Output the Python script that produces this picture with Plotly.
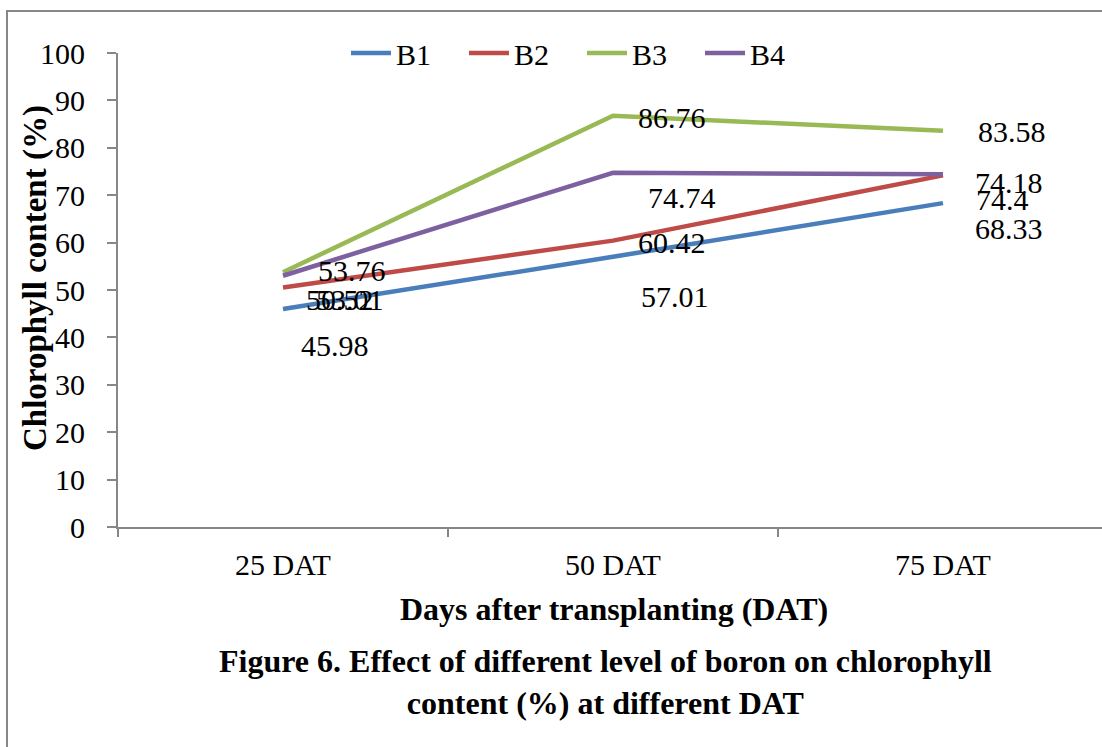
import plotly.graph_objects as go

# Chlorophyll content (%) at three sampling dates for four boron levels
categories = ["25 DAT", "50 DAT", "75 DAT"]
series_names = ["B1", "B2", "B3", "B4"]
b1 = [45.98, 57.01, 68.33]
b2 = [50.52, 60.42, 74.18]
b3 = [53.76, 86.76, 83.58]
b4 = [53.01, 74.74, 74.40]
y_ticks = [0, 10, 20, 30, 40, 50, 60, 70, 80, 90, 100]

values = [b1, b2, b3, b4]
colors = ["#4A7EBB", "#BE4B48", "#98B954", "#7D60A0"]

# pixel offsets of each value label from its point (dx right, dy down)
label_offsets = [
    [(52, 36), (62, 40), (66, 25)],
    [(57, 12), (59, 2), (66, 7)],
    [(69, -2), (59, 2), (69, 1)],
    [(67, 24), (69, 25), (59, 25)],
]

FONT = "Liberation Serif"

fig = go.Figure()
for name, vals, col in zip(series_names, values, colors):
    fig.add_trace(go.Scatter(
        x=categories, y=vals, name=name, mode="lines",
        line=dict(color=col, width=4.5, shape="linear"),
    ))

annotations = []
for vals, offs in zip(values, label_offsets):
    for cat, v, (dx, dy) in zip(categories, vals, offs):
        annotations.append(dict(
            x=cat, y=v, xref="x", yref="y", text=f"{v:g}",
            showarrow=False, xanchor="center", yanchor="middle",
            xshift=dx, yshift=-dy,
            font=dict(family=FONT, size=30, color="black"),
        ))

# y-axis title
annotations.append(dict(
    x=(35 - 118) / 984, y=(527 - 278) / 474, xref="paper", yref="paper",
    text="<b>Chlorophyll content (%)</b>", textangle=-90, showarrow=False,
    xanchor="center", yanchor="middle",
    font=dict(family=FONT, size=33, color="black"),
))
# x-axis title
annotations.append(dict(
    x=(614 - 118) / 984, y=(527 - 609) / 474, xref="paper", yref="paper",
    text="<b>Days after transplanting (DAT)</b>", showarrow=False,
    xanchor="center", yanchor="middle",
    font=dict(family=FONT, size=32, color="black"),
))
# figure caption
annotations.append(dict(
    x=(605 - 118) / 984, y=(527 - 682) / 474, xref="paper", yref="paper",
    text="<b>Figure 6. Effect of different level of boron on chlorophyll<br>content (%) at different DAT</b>",
    showarrow=False, xanchor="center", yanchor="middle", align="center",
    font=dict(family=FONT, size=32, color="black"),
))

fig.update_layout(
    width=1102, height=747,
    margin=dict(l=118, r=0, t=53, b=220, pad=0),
    paper_bgcolor="white", plot_bgcolor="white",
    font=dict(family=FONT, size=30, color="black"),
    showlegend=True,
    legend=dict(
        orientation="h", x=(582 - 118) / 984, y=1.0,
        xanchor="center", yanchor="middle",
        font=dict(family=FONT, size=30, color="black"),
        bgcolor="rgba(0,0,0,0)", entrywidth=63, itemwidth=40,
        tracegroupgap=0,
    ),
    annotations=annotations,
    shapes=[dict(
        type="rect", xref="paper", yref="paper",
        x0=(7 - 118) / 984, x1=1.05,
        y0=(527 - 760) / 474, y1=(527 - 11) / 474,
        line=dict(color="#878787", width=2), fillcolor="rgba(0,0,0,0)",
        layer="below",
    )],
)

fig.update_xaxes(
    type="category", range=[-0.5, -0.5 + 984 / 330],
    showline=True, linecolor="#878787", linewidth=2,
    ticks="outside", tickson="boundaries", ticklen=8, tickwidth=2,
    tickcolor="#878787", showgrid=False, zeroline=False,
    tickfont=dict(family=FONT, size=30, color="black"),
    ticklabelstandoff=10,
)
fig.update_yaxes(
    range=[0, 100], tickvals=y_ticks,
    showline=True, linecolor="#878787", linewidth=2,
    ticks="outside", ticklen=9, tickwidth=2, tickcolor="#878787",
    showgrid=False, zeroline=False,
    tickfont=dict(family=FONT, size=30, color="black"),
    ticklabelstandoff=16,
)

fig.write_html("out.html")
